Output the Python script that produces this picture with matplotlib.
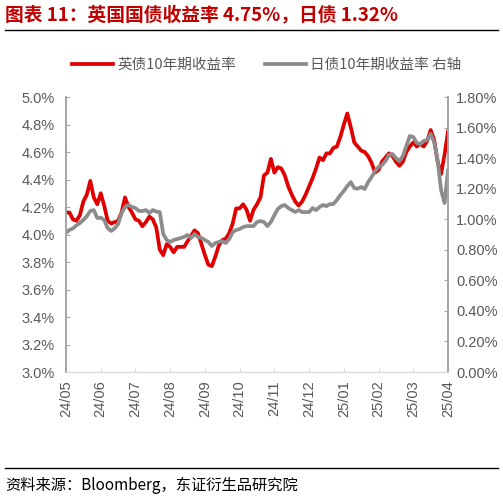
import numpy as np
import matplotlib
matplotlib.use("Agg")
import matplotlib.pyplot as plt
from matplotlib.ticker import FuncFormatter, MultipleLocator

plt.rcParams['font.family'] = ['Noto Sans CJK SC', 'DejaVu Sans']

# UK 10y yield, % (left axis)
uk10y = [4.16, 4.16, 4.11, 4.10, 4.14, 4.24, 4.29, 4.39, 4.27, 4.22,
         4.30, 4.21, 4.10, 4.08, 4.09, 4.10, 4.16, 4.27, 4.20, 4.16,
         4.11, 4.10, 4.06, 4.09, 4.13, 4.11, 4.05, 3.89, 3.85, 3.93,
         3.91, 3.87, 3.91, 3.91, 3.91, 3.95, 3.99, 4.03, 4.01, 3.93,
         3.85, 3.78, 3.77, 3.84, 3.92, 3.96, 3.97, 4.01, 4.08, 4.19,
         4.19, 4.22, 4.18, 4.10, 4.18, 4.22, 4.27, 4.43, 4.45, 4.55,
         4.45, 4.49, 4.48, 4.43, 4.35, 4.29, 4.24, 4.21, 4.24, 4.29,
         4.35, 4.41, 4.48, 4.56, 4.54, 4.59, 4.59, 4.63, 4.64, 4.71,
         4.80, 4.88, 4.78, 4.67, 4.64, 4.61, 4.60, 4.57, 4.52, 4.45,
         4.47, 4.53, 4.56, 4.59, 4.57, 4.53, 4.50, 4.53, 4.60, 4.64,
         4.67, 4.64, 4.66, 4.64, 4.68, 4.76, 4.69, 4.53, 4.44, 4.58,
         4.75]

# JGB 10y yield, % (right axis)
jgb10y = [0.91, 0.93, 0.94, 0.96, 0.975, 0.995, 1.02, 1.054, 1.06, 1.008,
          1.01, 0.995, 0.942, 0.923, 0.94, 0.969, 1.041, 1.08, 1.093, 1.08,
          1.073, 1.054, 1.054, 1.06, 1.04, 1.06, 1.05, 1.047, 0.903, 0.864,
          0.851, 0.864, 0.87, 0.877, 0.884, 0.897, 0.877, 0.903, 0.884, 0.877,
          0.864, 0.851, 0.825, 0.844, 0.851, 0.857, 0.844, 0.87, 0.916, 0.929,
          0.936, 0.949, 0.955, 0.955, 0.955, 0.982, 0.988, 0.982, 0.955, 0.982,
          1.027, 1.067, 1.086, 1.093, 1.073, 1.06, 1.047, 1.06, 1.047, 1.047,
          1.047, 1.073, 1.06, 1.08, 1.093, 1.086, 1.099, 1.10, 1.126, 1.158,
          1.185, 1.217, 1.243, 1.204, 1.20, 1.211, 1.198, 1.243, 1.276, 1.315,
          1.342, 1.355, 1.381, 1.42, 1.427, 1.40, 1.38, 1.414, 1.479, 1.545,
          1.538, 1.499, 1.492, 1.512, 1.518, 1.558, 1.505, 1.387, 1.191, 1.106,
          1.32]

month_labels = ['24/05', '24/06', '24/07', '24/08', '24/09', '24/10',
                '24/11', '24/12', '25/01', '25/02', '25/03', '25/04']

x = np.arange(len(uk10y))
step = (len(uk10y) - 1) / (len(month_labels) - 1)

fig = plt.figure(figsize=(5.03, 4.99), dpi=100)
ax = fig.add_axes([0.1312, 0.2545, 0.7595, 0.5511])
ax2 = ax.twinx()

red = '#E00000'
grey = '#8C8C8C'
txt = '#595959'

l1, = ax.plot(x, uk10y, color=red, lw=2.7, solid_joinstyle='round')
l2, = ax2.plot(x, jgb10y, color=grey, lw=2.7, solid_joinstyle='round')

ax.set_xlim(0, len(uk10y) - 1)
ax.set_ylim(3.0, 5.0)
ax2.set_ylim(0.0, 1.8)
ax.yaxis.set_major_locator(MultipleLocator(0.2))
ax2.yaxis.set_major_locator(MultipleLocator(0.2))
ax.yaxis.set_major_formatter(FuncFormatter(lambda v, p: '%.1f%%' % v))
ax2.yaxis.set_major_formatter(FuncFormatter(lambda v, p: '%.2f%%' % v))

ax.set_xticks([i * step for i in range(len(month_labels))])
ax.set_xticklabels(month_labels, rotation=90)

for a in (ax, ax2):
    a.spines['top'].set_visible(False)
    a.spines['left'].set_color('#A6A6A6')
    a.spines['right'].set_color('#A6A6A6')
    a.spines['bottom'].set_color('#D9D9D9')
    a.spines['left'].set_linewidth(1.3)
    a.spines['right'].set_linewidth(1.3)
    a.tick_params(labelsize=10.5, labelcolor=txt, color='#A6A6A6', direction='in', length=3)
    for lab in a.get_xticklabels() + a.get_yticklabels():
        lab.set_family(['Liberation Sans', 'DejaVu Sans'])
ax.tick_params(axis='y', pad=8)
ax2.tick_params(axis='y', pad=6)
ax.tick_params(axis='x', color='#D9D9D9', pad=6)

fig.legend([l1, l2], ['英债10年期收益率', '日债10年期收益率 右轴'],
           loc='center', bbox_to_anchor=(0.53, 0.87), ncol=2, frameon=False,
           fontsize=10.5, handlelength=2.8, columnspacing=2.0, handletextpad=0.3,
           labelcolor=txt)

fig.text(0.01, 0.968, '图表 11：英国国债收益率 4.75%，日债 1.32%', color='#C00000',
         fontsize=13.5, fontweight='bold', va='center', ha='left')
fig.add_artist(plt.Line2D([0.01, 0.99], [0.940, 0.940], color='black', lw=1.0))
fig.add_artist(plt.Line2D([0.01, 0.99], [0.062, 0.062], color='black', lw=1.0))
fig.text(0.01, 0.028, '资料来源：Bloomberg，东证衍生品研究院', color='black',
         fontsize=11, va='center', ha='left')

fig.savefig('out.png', dpi=100)
